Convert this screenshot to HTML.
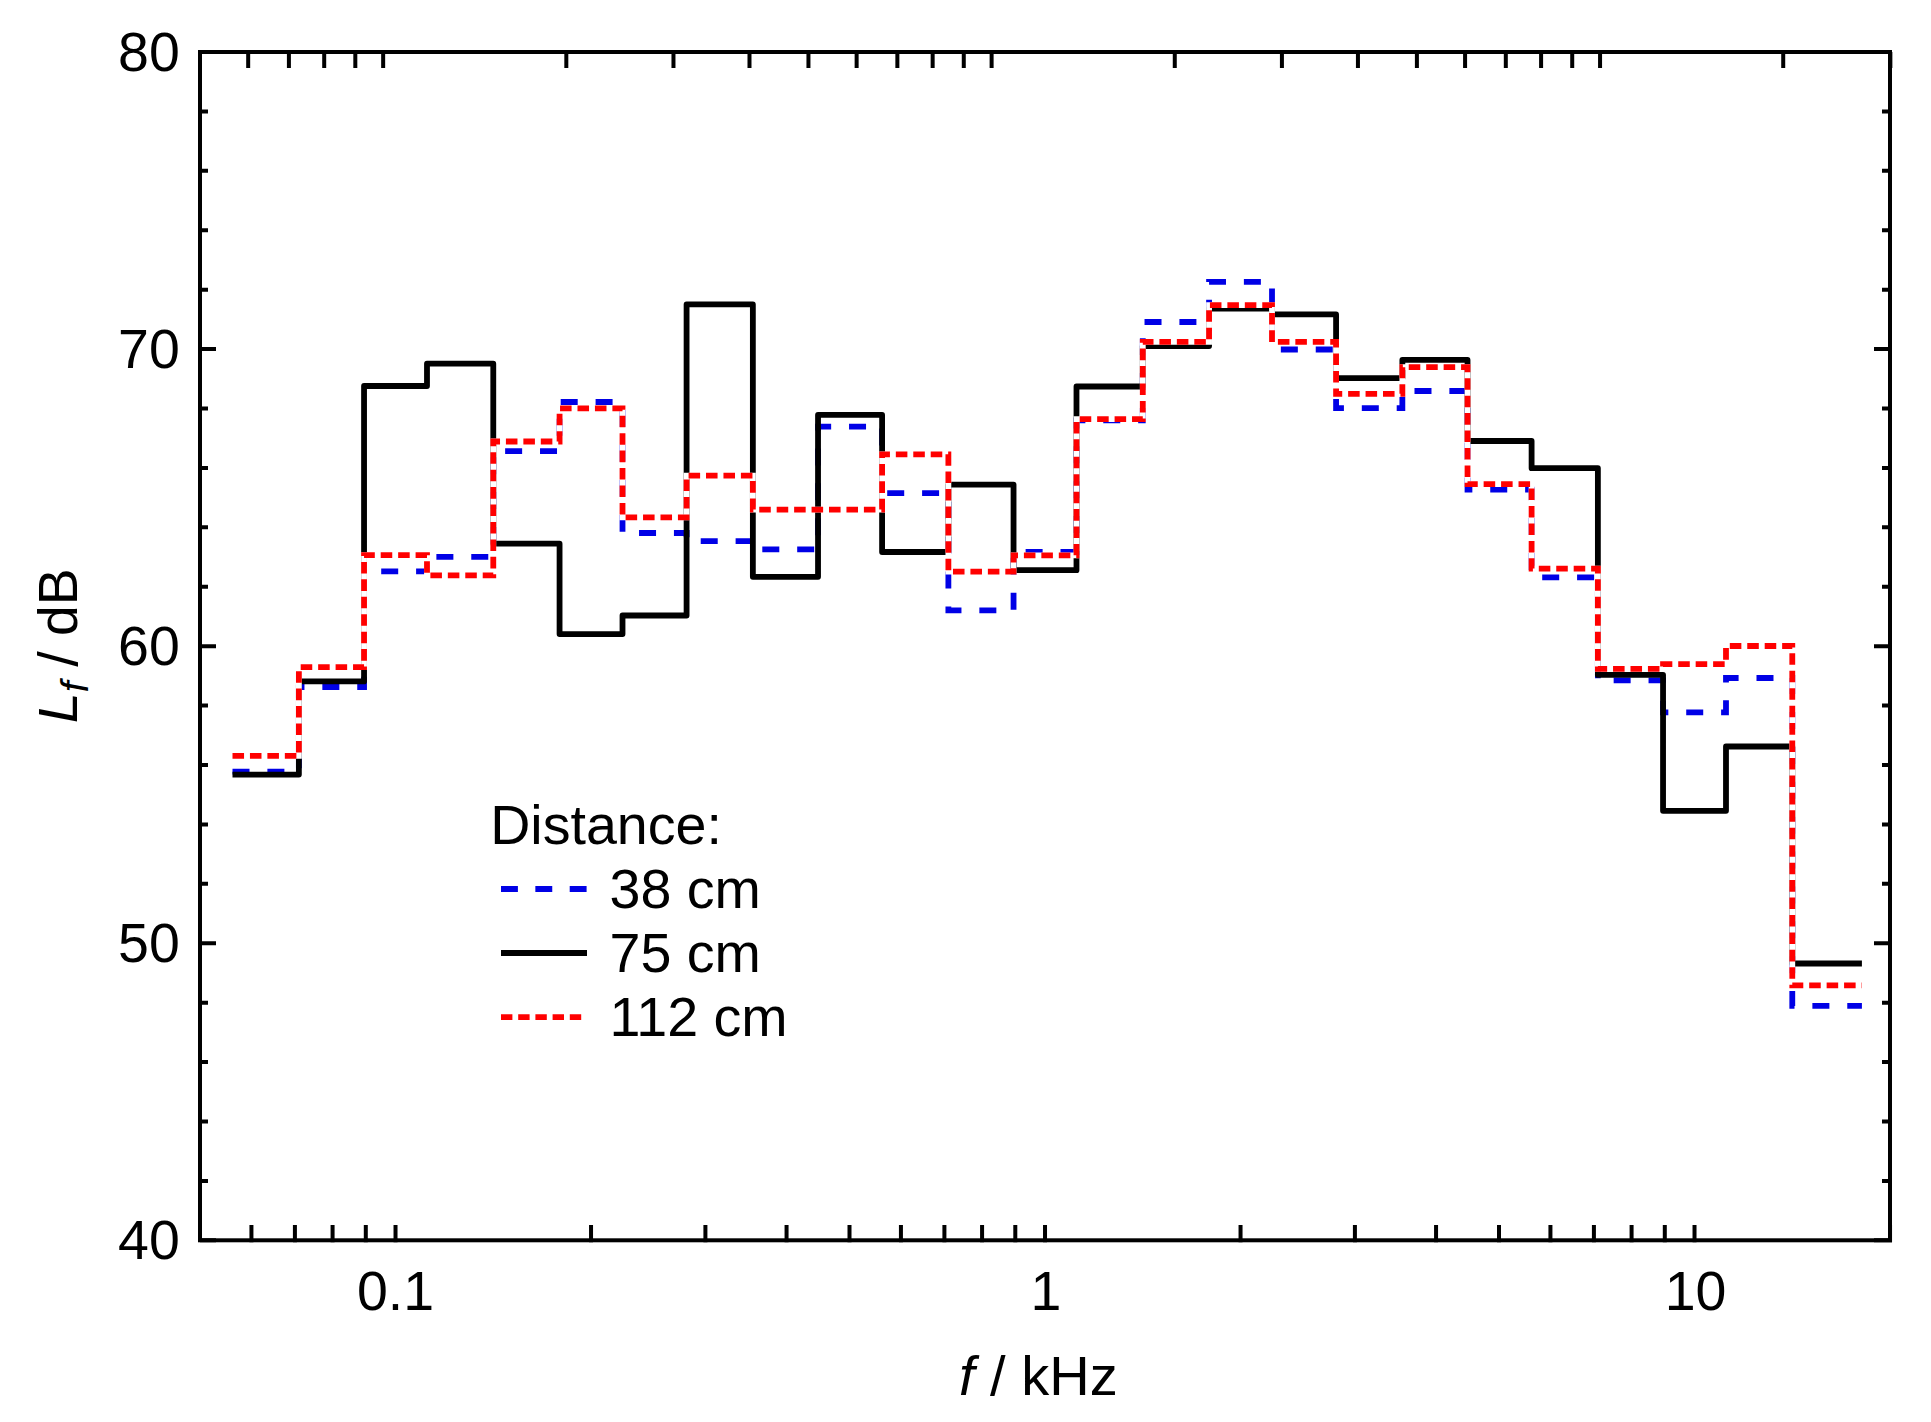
<!DOCTYPE html>
<html lang="en"><head><meta charset="utf-8"><title>Lf spectrum</title>
<style>html,body{margin:0;padding:0;background:#fff;overflow:hidden}svg{display:block}text{font-family:"Liberation Sans",Arial,sans-serif;fill:#000}</style></head><body>
<svg width="1931" height="1422" viewBox="0 0 1931 1422">
<rect width="1931" height="1422" fill="#fff"/>
<g fill="none" stroke-width="5.80" stroke-linejoin="miter" stroke-linecap="butt">
<path d="M232.50 771.60 L298.88 771.60 L298.88 687.00 L364.05 687.00 L364.05 571.40 L426.99 571.40 L426.99 556.80 L493.28 556.80 L493.28 451.10 L559.57 451.10 L559.57 402.00 L622.51 402.00 L622.51 533.00 L686.58 533.00 L686.58 541.10 L752.86 541.10 L752.86 549.30 L818.03 549.30 L818.03 426.70 L882.10 426.70 L882.10 493.20 L948.38 493.20 L948.38 610.40 L1013.55 610.40 L1013.55 552.00 L1076.49 552.00 L1076.49 420.30 L1142.78 420.30 L1142.78 322.00 L1209.07 322.00 L1209.07 281.80 L1272.01 281.80 L1272.01 349.50 L1336.08 349.50 L1336.08 408.10 L1402.36 408.10 L1402.36 391.00 L1467.53 391.00 L1467.53 489.70 L1531.60 489.70 L1531.60 577.30 L1597.88 577.30 L1597.88 680.30 L1663.05 680.30 L1663.05 712.40 L1725.99 712.40 L1725.99 678.00 L1792.28 678.00 L1792.28 1005.90 L1861.91 1005.90" stroke="#0000e6" stroke-dasharray="17 17.89"/>
<path d="M232.50 774.60 L298.88 774.60 L298.88 681.40 L364.05 681.40 L364.05 386.00 L426.99 386.00 L426.99 363.70 L493.28 363.70 L493.28 543.70 L559.57 543.70 L559.57 634.10 L622.51 634.10 L622.51 615.50 L686.58 615.50 L686.58 304.40 L752.86 304.40 L752.86 576.80 L818.03 576.80 L818.03 414.90 L882.10 414.90 L882.10 552.00 L948.38 552.00 L948.38 484.60 L1013.55 484.60 L1013.55 570.20 L1076.49 570.20 L1076.49 386.50 L1142.78 386.50 L1142.78 346.00 L1209.07 346.00 L1209.07 308.60 L1272.01 308.60 L1272.01 314.40 L1336.08 314.40 L1336.08 378.20 L1402.36 378.20 L1402.36 359.90 L1467.53 359.90 L1467.53 441.00 L1531.60 441.00 L1531.60 468.20 L1597.88 468.20 L1597.88 674.90 L1663.05 674.90 L1663.05 810.80 L1725.99 810.80 L1725.99 746.50 L1792.28 746.50 L1792.28 963.50 L1861.91 963.50" stroke="#000" stroke-linejoin="round"/>
<path d="M232.50 755.90 L298.88 755.90 L298.88 667.10 L364.05 667.10 L364.05 555.20 L426.99 555.20 L426.99 575.30 L493.28 575.30 L493.28 441.50 L559.57 441.50 L559.57 408.40 L622.51 408.40 L622.51 517.30 L686.58 517.30 L686.58 475.60 L752.86 475.60 L752.86 509.60 L818.03 509.60 L818.03 509.60 L882.10 509.60 L882.10 454.30 L948.38 454.30 L948.38 571.60 L1013.55 571.60 L1013.55 555.30 L1076.49 555.30 L1076.49 419.20 L1142.78 419.20 L1142.78 341.90 L1209.07 341.90 L1209.07 305.20 L1272.01 305.20 L1272.01 341.90 L1336.08 341.90 L1336.08 393.80 L1402.36 393.80 L1402.36 367.20 L1467.53 367.20 L1467.53 484.20 L1531.60 484.20 L1531.60 568.60 L1597.88 568.60 L1597.88 668.80 L1663.05 668.80 L1663.05 664.20 L1725.99 664.20 L1725.99 646.00 L1792.28 646.00 L1792.28 985.30 L1861.91 985.30" stroke="#fff" stroke-width="5.80"/>
<path d="M232.50 755.90 L298.88 755.90 L298.88 667.10 L364.05 667.10 L364.05 555.20 L426.99 555.20 L426.99 575.30 L493.28 575.30 L493.28 441.50 L559.57 441.50 L559.57 408.40 L622.51 408.40 L622.51 517.30 L686.58 517.30 L686.58 475.60 L752.86 475.60 L752.86 509.60 L818.03 509.60 L818.03 509.60 L882.10 509.60 L882.10 454.30 L948.38 454.30 L948.38 571.60 L1013.55 571.60 L1013.55 555.30 L1076.49 555.30 L1076.49 419.20 L1142.78 419.20 L1142.78 341.90 L1209.07 341.90 L1209.07 305.20 L1272.01 305.20 L1272.01 341.90 L1336.08 341.90 L1336.08 393.80 L1402.36 393.80 L1402.36 367.20 L1467.53 367.20 L1467.53 484.20 L1531.60 484.20 L1531.60 568.60 L1597.88 568.60 L1597.88 668.80 L1663.05 668.80 L1663.05 664.20 L1725.99 664.20 L1725.99 646.00 L1792.28 646.00 L1792.28 985.30 L1861.91 985.30" stroke="#ff0000" stroke-dasharray="11.55 5.895"/>
</g>
<g stroke="#000" stroke-width="4" fill="none" stroke-linecap="butt">
<rect x="200.0" y="52.0" width="1690.0" height="1188.3"/>
<path d="M251.43 1242.3V1224.9M294.91 1242.3V1224.9M332.58 1242.3V1224.9M365.80 1242.3V1224.9M395.52 1242.3V1224.9M591.04 1242.3V1224.9M705.41 1242.3V1224.9M786.56 1242.3V1224.9M849.50 1242.3V1224.9M900.93 1242.3V1224.9M944.41 1242.3V1224.9M982.08 1242.3V1224.9M1015.30 1242.3V1224.9M1045.02 1242.3V1224.9M1240.54 1242.3V1224.9M1354.91 1242.3V1224.9M1436.06 1242.3V1224.9M1499.00 1242.3V1224.9M1550.43 1242.3V1224.9M1593.91 1242.3V1224.9M1631.58 1242.3V1224.9M1664.80 1242.3V1224.9M1694.52 1242.3V1224.9M1890.04 1242.3V1224.9M248.18 52.0V68.0M288.91 52.0V68.0M324.20 52.0V68.0M355.32 52.0V68.0M383.16 52.0V68.0M566.32 52.0V68.0M673.47 52.0V68.0M749.49 52.0V68.0M808.45 52.0V68.0M856.63 52.0V68.0M897.36 52.0V68.0M932.65 52.0V68.0M963.77 52.0V68.0M991.61 52.0V68.0M1174.77 52.0V68.0M1281.92 52.0V68.0M1357.94 52.0V68.0M1416.90 52.0V68.0M1465.08 52.0V68.0M1505.81 52.0V68.0M1541.10 52.0V68.0M1572.22 52.0V68.0M1600.06 52.0V68.0M1783.22 52.0V68.0M1890.37 52.0V68.0M200.0 1240.30H216.0M1890.0 1240.30H1874.0M200.0 1180.88H208.0M1890.0 1180.88H1882.0M200.0 1121.47H208.0M1890.0 1121.47H1882.0M200.0 1062.05H208.0M1890.0 1062.05H1882.0M200.0 1002.64H208.0M1890.0 1002.64H1882.0M200.0 943.23H216.0M1890.0 943.23H1874.0M200.0 883.81H208.0M1890.0 883.81H1882.0M200.0 824.39H208.0M1890.0 824.39H1882.0M200.0 764.98H208.0M1890.0 764.98H1882.0M200.0 705.56H208.0M1890.0 705.56H1882.0M200.0 646.15H216.0M1890.0 646.15H1874.0M200.0 586.73H208.0M1890.0 586.73H1882.0M200.0 527.32H208.0M1890.0 527.32H1882.0M200.0 467.91H208.0M1890.0 467.91H1882.0M200.0 408.49H208.0M1890.0 408.49H1882.0M200.0 349.07H216.0M1890.0 349.07H1874.0M200.0 289.66H208.0M1890.0 289.66H1882.0M200.0 230.24H208.0M1890.0 230.24H1882.0M200.0 170.83H208.0M1890.0 170.83H1882.0M200.0 111.41H208.0M1890.0 111.41H1882.0M200.0 52.00H216.0M1890.0 52.00H1874.0"/>
</g>
<g font-size="56.0">
<text font-size="55.5" transform="translate(179.8 1258.9) scale(1 1.01)" text-anchor="end">40</text>
<text font-size="55.5" transform="translate(179.8 961.8) scale(1 1.01)" text-anchor="end">50</text>
<text font-size="55.5" transform="translate(179.8 664.8) scale(1 1.01)" text-anchor="end">60</text>
<text font-size="55.5" transform="translate(179.8 367.7) scale(1 1.01)" text-anchor="end">70</text>
<text font-size="55.5" transform="translate(179.8 70.6) scale(1 1.01)" text-anchor="end">80</text>
<text font-size="55.5" transform="translate(395.5 1310.3) scale(1 1.01)" text-anchor="middle">0.1</text>
<text font-size="55.5" transform="translate(1046.0 1310.3) scale(1 1.01)" text-anchor="middle">1</text>
<text font-size="55.5" transform="translate(1695.5 1310.3) scale(1 1.01)" text-anchor="middle">10</text>
<text x="959" y="1395"><tspan font-style="italic">f</tspan> / kHz</text>
<text font-size="55.5" transform="translate(77 723.2) rotate(-90)"><tspan font-style="italic">L</tspan><tspan font-style="italic" font-size="39" dy="11.3">f</tspan><tspan dy="-11.3" dx="-0.8"> / dB</tspan></text>
<g font-size="55.6">
<text x="490.2" y="844">Distance:</text>
<text x="609.5" y="908">38 cm</text>
<text x="609.5" y="971.5">75 cm</text>
<text x="609.5" y="1035.5">112 cm</text>
</g>
</g>
<g fill="none" stroke-width="5.80">
<path d="M501 889H587" stroke="#0000e6" stroke-dasharray="16.9 17.45"/>
<path d="M501 953H587" stroke="#000"/>
<path d="M501 1017.1H587" stroke="#ff0000" stroke-dasharray="11.4 5.8"/>
</g>
</svg></body></html>
